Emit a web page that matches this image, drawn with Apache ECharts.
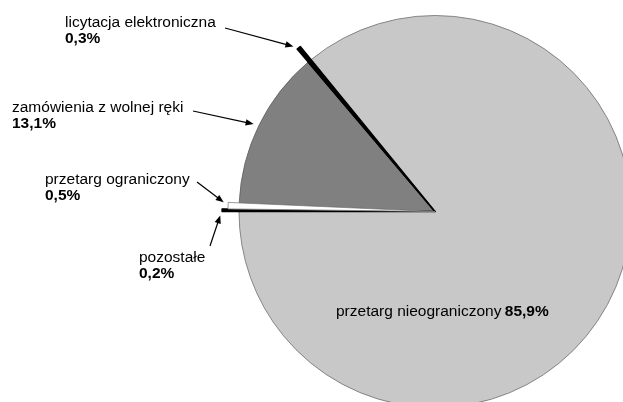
<!DOCTYPE html>
<html><head><meta charset="utf-8">
<script src="https://cdn.jsdelivr.net/npm/echarts@6/dist/echarts.min.js"></script>
<style>html,body{margin:0;padding:0;background:#fff}#c{width:623px;height:402px}</style>
</head><body><div id="c"></div>
<script>
// ---- data ----
const categories = ['pozostałe', 'przetarg ograniczony', 'zamówienia z wolnej ręki', 'licytacja elektroniczna', 'przetarg nieograniczony'];
const shares = [0.2, 0.5, 13.1, 0.3, 85.9];

// ---- styles / layout ----
const sliceColors = ['#000000', '#ffffff', '#808080', '#000000', '#c8c8c8'];
const sliceBorders = ['#000000', '#808080', '#606060', '#000000', '#6e6e6e'];
const borderWidths = [1.3, 0.8, 0.8, 1.6, 0.8];
const CX = 435, CY = 211.5, R = 196, START = 180;
const extraRadius = [213, 207, null, 213, null];
const labelBoxes = [[139, 249.5], [45, 171.5], [12, 99.5], [65, 15], [336, 303.5]];
const arrowTails = [[210, 246], [197, 182], [193, 111], [225, 28]];
const FONT = 'Liberation Sans, Arial, sans-serif';

const fmt = v => v.toFixed(1).replace('.', ',') + '%';
const total = shares.reduce((a, b) => a + b, 0);

function sliceData(visibleFn) {
  return categories.map((n, i) => ({
    name: n, value: shares[i],
    itemStyle: visibleFn(i)
      ? { color: sliceColors[i], borderColor: sliceBorders[i], borderWidth: borderWidths[i] }
      : { color: 'rgba(0,0,0,0)', borderWidth: 0 }
  }));
}

const series = [{
  type: 'pie', center: [CX, CY], radius: R, startAngle: START, clockwise: true,
  animation: false, avoidLabelOverlap: false, silent: true,
  emphasis: { disabled: true },
  data: sliceData(() => true),
  label: {
    show: true, position: 'outside',
    formatter: p => p.dataIndex === 4
      ? `{n|${p.name}} {v|${fmt(p.value)}}`
      : `{n|${p.name}}\n{v|${fmt(p.value)}}`,
    rich: {
      n: { fontFamily: FONT, fontSize: 15.5, color: '#000', lineHeight: 16 },
      v: { fontFamily: FONT, fontSize: 15.5, color: '#000', fontWeight: 'bold', lineHeight: 16 }
    }
  },
  labelLine: { show: false },
  labelLayout: p => {
    const b = labelBoxes[p.dataIndex];
    return { x: b[0], y: b[1], align: 'left', verticalAlign: 'top' };
  }
}];

// overlay series for the small, longer slices
[...new Set(extraRadius.filter(r => r))].forEach(r => {
  series.push({
    type: 'pie', center: [CX, CY], radius: r, startAngle: START, clockwise: true,
    animation: false, silent: true, emphasis: { disabled: true },
    label: { show: false }, labelLine: { show: false },
    data: sliceData(i => extraRadius[i] === r)
  });
});

// arrows pointing from labels to slices
const graphic = [];
let cum = 0;
const mids = shares.map(v => { const m = cum + v / 2; cum += v; return m; });
arrowTails.forEach((t, i) => {
  const a = (START - mids[i] / total * 360) * Math.PI / 180;
  const r = extraRadius[i] || R;
  const tx = CX + r * Math.cos(a), ty = CY - r * Math.sin(a);
  let dx = tx - t[0], dy = ty - t[1];
  const L = Math.hypot(dx, dy); dx /= L; dy /= L;
  const gap = 5.5, head = 8, hw = 3.2;
  const px = tx - dx * gap, py = ty - dy * gap;
  const bx = px - dx * head, by = py - dy * head;
  graphic.push({ type: 'line', silent: true, shape: { x1: t[0], y1: t[1], x2: bx + dx, y2: by + dy }, style: { stroke: '#000', lineWidth: 1.2 } });
  graphic.push({ type: 'polygon', silent: true, shape: { points: [[px, py], [bx - dy * hw, by + dx * hw], [bx + dy * hw, by - dx * hw]] }, style: { fill: '#000' } });
});

const chart = echarts.init(document.getElementById('c'));
chart.setOption({ backgroundColor: '#fff', animation: false, series, graphic });
</script>
</body></html>
